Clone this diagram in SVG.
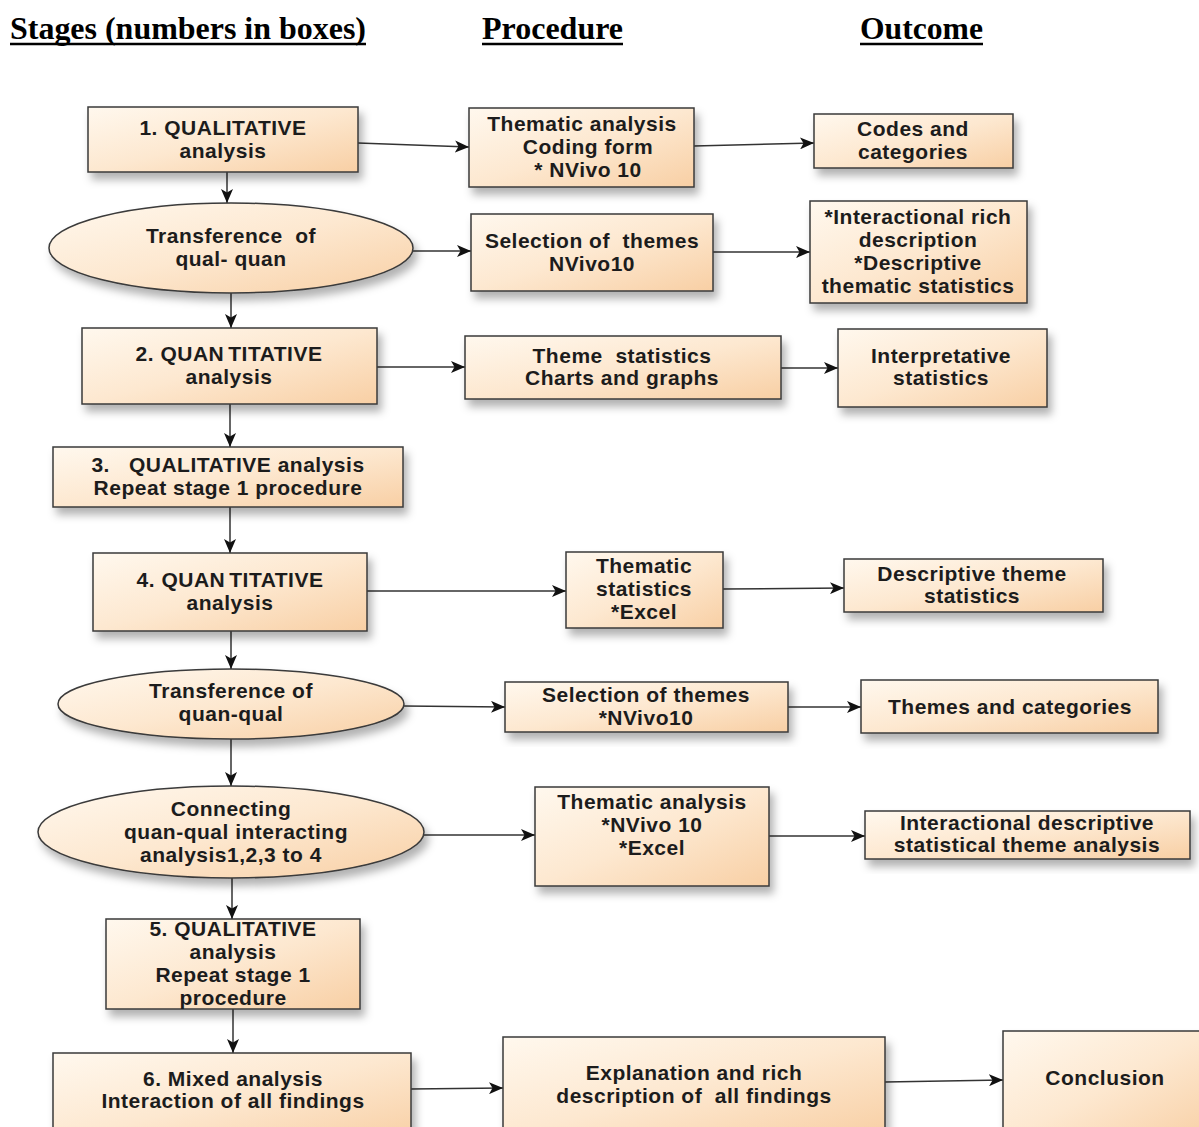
<svg xmlns="http://www.w3.org/2000/svg" width="1199" height="1127" viewBox="0 0 1199 1127">
<defs>
<linearGradient id="g" x1="0" y1="0" x2="1" y2="1">
<stop offset="0" stop-color="#fff8ee"/>
<stop offset="0.5" stop-color="#fde8d0"/>
<stop offset="1" stop-color="#f8cfa4"/>
</linearGradient>
<filter id="sh" x="-10%" y="-20%" width="125%" height="150%">
<feDropShadow dx="4" dy="7" stdDeviation="4" flood-color="#000" flood-opacity="0.3"/>
</filter>
<marker id="ah" markerUnits="userSpaceOnUse" markerWidth="15" markerHeight="12" refX="14" refY="6" orient="auto">
<path d="M0,0 L14,6 L0,12 L3.5,6 z" fill="#111"/>
</marker>
<style>
.n{fill:url(#g);stroke:#3a3a3a;stroke-width:1.5;filter:url(#sh)}
.t{font-family:"Liberation Sans",Arial,sans-serif;font-weight:bold;font-size:21px;fill:#1c1c1c;text-anchor:middle;letter-spacing:0.5px;white-space:pre}
.h{font-family:"Liberation Serif","Times New Roman",serif;font-weight:bold;font-size:31px;fill:#000}
.u{stroke:#000;stroke-width:2.5}
.c{stroke:#333;stroke-width:1.5;fill:none;marker-end:url(#ah)}
</style>
</defs>
<rect width="1199" height="1127" fill="#fff"/>
<g id="headers">
<text class="h" x="10" y="39" textLength="356" lengthAdjust="spacingAndGlyphs">Stages (numbers in boxes)</text>
<line class="u" x1="10" y1="44" x2="366" y2="44"/>
<text class="h" x="482" y="39" textLength="141" lengthAdjust="spacingAndGlyphs">Procedure</text>
<line class="u" x1="482" y1="44" x2="623" y2="44"/>
<text class="h" x="860" y="39" textLength="123" lengthAdjust="spacingAndGlyphs">Outcome</text>
<line class="u" x1="860" y1="44" x2="983" y2="44"/>
</g>
<g id="connectors">
<line class="c" x1="227" y1="172" x2="227" y2="203"/>
<line class="c" x1="231" y1="293" x2="231" y2="328"/>
<line class="c" x1="230" y1="404" x2="230" y2="447"/>
<line class="c" x1="230" y1="507" x2="230" y2="553"/>
<line class="c" x1="231" y1="631" x2="231" y2="669"/>
<line class="c" x1="231" y1="739" x2="231" y2="786"/>
<line class="c" x1="232" y1="878" x2="232" y2="919"/>
<line class="c" x1="233" y1="1009" x2="233" y2="1053"/>
<line class="c" x1="358" y1="143" x2="469" y2="147"/>
<line class="c" x1="694" y1="146" x2="814" y2="143"/>
<line class="c" x1="413" y1="251" x2="471" y2="251"/>
<line class="c" x1="713" y1="252" x2="810" y2="252"/>
<line class="c" x1="377" y1="367" x2="465" y2="367"/>
<line class="c" x1="781" y1="368" x2="838" y2="368"/>
<line class="c" x1="367" y1="591" x2="566" y2="591"/>
<line class="c" x1="723" y1="589" x2="844" y2="588"/>
<line class="c" x1="404" y1="706" x2="505" y2="707"/>
<line class="c" x1="788" y1="707" x2="861" y2="707"/>
<line class="c" x1="424" y1="835" x2="535" y2="835"/>
<line class="c" x1="769" y1="836" x2="865" y2="836"/>
<line class="c" x1="411" y1="1089" x2="503" y2="1088"/>
<line class="c" x1="885" y1="1082" x2="1003" y2="1080"/>
</g>
<g id="stage1"><rect class="n" x="88" y="107" width="270" height="65"/><text class="t" x="223" y="135">1. QUALITATIVE</text><text class="t" x="223" y="158">analysis</text></g>
<g id="trans1"><ellipse class="n" cx="231" cy="248" rx="182" ry="45"/><text class="t" x="231" y="243">Transference  of</text><text class="t" x="231" y="266">qual- quan</text></g>
<g id="stage2"><rect class="n" x="82" y="328" width="295" height="76"/><text class="t" x="229" y="361">2. QUAN<tspan dx="4">TITATIVE</tspan></text><text class="t" x="229" y="384">analysis</text></g>
<g id="stage3"><rect class="n" x="53" y="447" width="350" height="60"/><text class="t" x="228" y="472">3.   QUALITATIVE analysis</text><text class="t" x="228" y="495">Repeat stage 1 procedure</text></g>
<g id="stage4"><rect class="n" x="93" y="553" width="274" height="78"/><text class="t" x="230" y="587">4. QUAN<tspan dx="4">TITATIVE</tspan></text><text class="t" x="230" y="610">analysis</text></g>
<g id="trans2"><ellipse class="n" cx="231" cy="704" rx="173" ry="35"/><text class="t" x="231" y="698">Transference of</text><text class="t" x="231" y="721">quan-qual</text></g>
<g id="connecting"><ellipse class="n" cx="231" cy="832" rx="193" ry="46"/><text class="t" x="231" y="816">Connecting</text><text class="t" x="236" y="839">quan-qual interacting</text><text class="t" x="231" y="862">analysis1,2,3 to 4</text></g>
<g id="stage5"><rect class="n" x="106" y="919" width="254" height="90"/><text class="t" x="233" y="936">5. QUALITATIVE</text><text class="t" x="233" y="959">analysis</text><text class="t" x="233" y="982">Repeat stage 1</text><text class="t" x="233" y="1005">procedure</text></g>
<g id="stage6"><rect class="n" x="53" y="1053" width="358" height="90"/><text class="t" x="233" y="1086">6. Mixed analysis</text><text class="t" x="233" y="1108">Interaction of all findings</text></g>
<g id="proc1"><rect class="n" x="469" y="108" width="225" height="79"/><text class="t" x="582" y="131">Thematic analysis</text><text class="t" x="588" y="154">Coding form</text><text class="t" x="588" y="177">* NVivo 10</text></g>
<g id="proc2"><rect class="n" x="471" y="214" width="242" height="77"/><text class="t" x="592" y="248">Selection of  themes</text><text class="t" x="592" y="271">NVivo10</text></g>
<g id="proc3"><rect class="n" x="465" y="336" width="316" height="63"/><text class="t" x="622" y="363">Theme  statistics</text><text class="t" x="622" y="385">Charts and graphs</text></g>
<g id="proc4"><rect class="n" x="566" y="552" width="157" height="76"/><text class="t" x="644" y="573">Thematic</text><text class="t" x="644" y="596">statistics</text><text class="t" x="644" y="619">*Excel</text></g>
<g id="proc5"><rect class="n" x="505" y="682" width="283" height="50"/><text class="t" x="646" y="702">Selection of themes</text><text class="t" x="646" y="725">*NVivo10</text></g>
<g id="proc6"><rect class="n" x="535" y="787" width="234" height="99"/><text class="t" x="652" y="809">Thematic analysis</text><text class="t" x="652" y="832">*NVivo 10</text><text class="t" x="652" y="855">*Excel</text></g>
<g id="proc7"><rect class="n" x="503" y="1037" width="382" height="100"/><text class="t" x="694" y="1080">Explanation and rich</text><text class="t" x="694" y="1103">description of  all findings</text></g>
<g id="out1"><rect class="n" x="814" y="114" width="199" height="54"/><text class="t" x="913" y="136">Codes and</text><text class="t" x="913" y="159">categories</text></g>
<g id="out2"><rect class="n" x="810" y="201" width="217" height="102"/><text class="t" x="918" y="224">*Interactional rich</text><text class="t" x="918" y="247">description</text><text class="t" x="918" y="270">*Descriptive</text><text class="t" x="918" y="293">thematic statistics</text></g>
<g id="out3"><rect class="n" x="838" y="329" width="209" height="78"/><text class="t" x="941" y="363">Interpretative</text><text class="t" x="941" y="385">statistics</text></g>
<g id="out4"><rect class="n" x="844" y="559" width="259" height="53"/><text class="t" x="972" y="581">Descriptive theme</text><text class="t" x="972" y="603">statistics</text></g>
<g id="out5"><rect class="n" x="861" y="680" width="297" height="53"/><text class="t" x="1010" y="714">Themes and categories</text></g>
<g id="out6"><rect class="n" x="865" y="811" width="325" height="48"/><text class="t" x="1027" y="830">Interactional descriptive</text><text class="t" x="1027" y="852">statistical theme analysis</text></g>
<g id="out7"><rect class="n" x="1003" y="1031" width="210" height="110"/><text class="t" x="1105" y="1085">Conclusion</text></g>
</svg>
